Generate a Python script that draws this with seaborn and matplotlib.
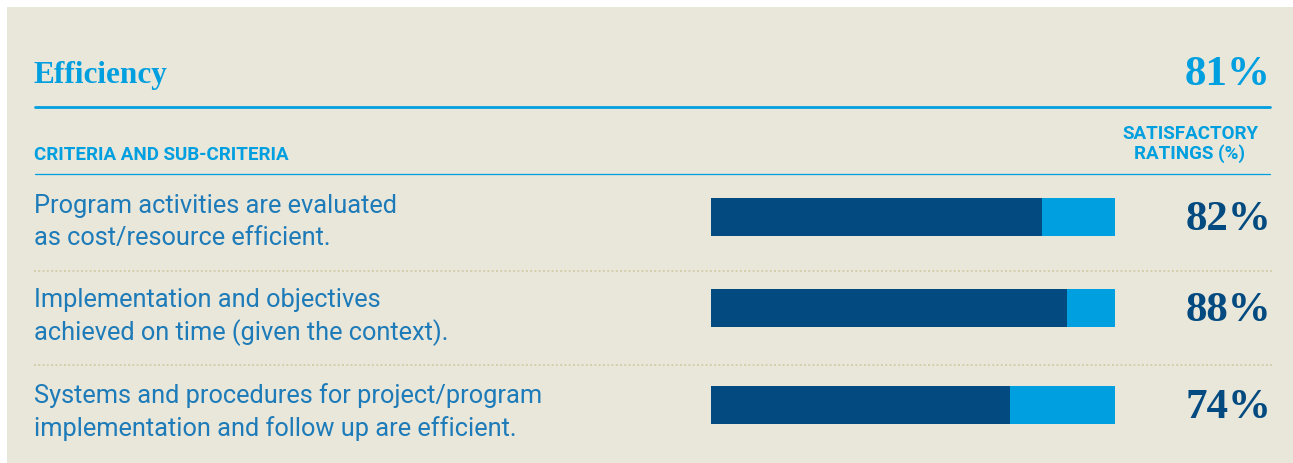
import matplotlib.pyplot as plt
import seaborn as sns
from matplotlib.lines import Line2D
from matplotlib.patches import Rectangle

# data
title = "Efficiency"
overall = 81
criteria = [
    "Program activities are evaluated\nas cost/resource efficient.",
    "Implementation and objectives\nachieved on time (given the context).",
    "Systems and procedures for project/program\nimplementation and follow up are efficient.",
]
ratings = [82, 88, 74]

BG = "#E9E6DA"
LIGHT = "#009FDF"
DARK = "#024A7F"
TEXT = "#1C7BB8"
DOTS = "#D3CFAA"

W, H = 1293, 464
fig = plt.figure(figsize=(W / 100, H / 100), dpi=100)
fig.patch.set_facecolor("white")
sns.set_style("white")


def fx(x):
    return x / W


def fy(y):
    return 1 - y / H


fig.add_artist(Rectangle((fx(7), 0), 1, fy(8), transform=fig.transFigure,
                         facecolor=BG, edgecolor="none", zorder=0))

serif = ["Liberation Serif", "DejaVu Serif"]
sans = ["Roboto", "Liberation Sans", "DejaVu Sans"]

# header
fig.text(fx(33), fy(75), title, color=LIGHT, fontsize=22.5, fontweight="bold",
         family=serif, ha="left", va="center")
fig.text(fx(1271), fy(75), f"{overall}%", color=LIGHT, fontsize=31,
         fontweight="bold", family=serif, ha="right", va="center")
fig.add_artist(Line2D([fx(35), fx(1270)], [fy(108), fy(108)], color=LIGHT, lw=2))

fig.text(fx(34), fy(155), "CRITERIA AND SUB-CRITERIA", color=LIGHT, fontsize=13.5,
         fontweight="bold", family=sans, ha="left", va="center")
fig.text(fx(1190), fy(144), "SATISFACTORY\nRATINGS (%)", color=LIGHT, fontsize=13.5,
         fontweight="bold", family=sans, ha="center", va="center", linespacing=1.02)
fig.add_artist(Line2D([fx(35), fx(1270)], [fy(175), fy(175)], color=LIGHT, lw=0.9))

# rows
bar_tops = [199, 290, 387]
label_mid = [222, 317, 412]
for i, (label, val) in enumerate(zip(criteria, ratings)):
    top = bar_tops[i]
    ax = fig.add_axes([fx(711), fy(top + 38), fx(404), 38 / H])
    sns.barplot(x=[100], y=[label], color=LIGHT, width=1, linewidth=0,
                saturation=1, ax=ax)
    sns.barplot(x=[val], y=[label], color=DARK, width=1, linewidth=0,
                saturation=1, ax=ax)
    ax.set_xlim(0, 100)
    ax.set_ylim(0.5, -0.5)
    ax.axis("off")

    fig.text(fx(34), fy(label_mid[i]), label, color=TEXT, fontsize=18.3,
             family=sans, ha="left", va="center", linespacing=1.38)
    fig.text(fx(1271), fy(top + 21), f"{val}%", color=DARK, fontsize=31,
             fontweight="bold", family=serif, ha="right", va="center")

for y in [272, 366]:
    fig.add_artist(Line2D([fx(34), fx(1272)], [fy(y), fy(y)], color=DOTS,
                          lw=1.4, dashes=(1, 1.2)))

fig.savefig("out.png", dpi=100, facecolor=fig.get_facecolor())
